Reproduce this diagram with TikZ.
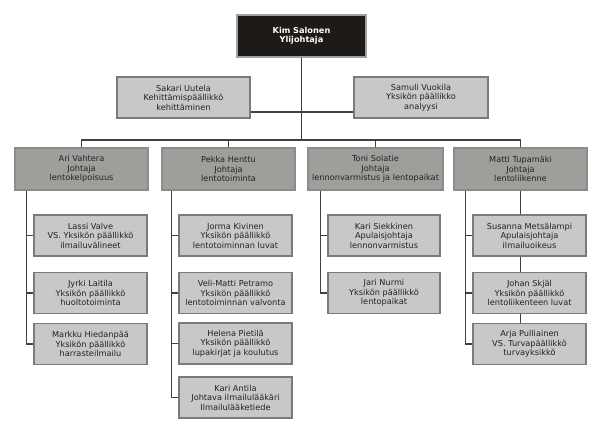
\documentclass[tikz,border=0pt]{standalone}
\usepackage{fontspec}
\setmainfont{DejaVu Sans}
\definecolor{topfill}{HTML}{1E1A18}
\definecolor{topborder}{HTML}{A0A0A0}
\definecolor{lightfill}{HTML}{C8C8C8}
\definecolor{lightborder}{HTML}{7A7A7A}
\definecolor{midfill}{HTML}{A09E9B}
\definecolor{midborder}{HTML}{8C8C8C}
\definecolor{linec}{HTML}{404040}
\definecolor{txt}{HTML}{222222}
\begin{document}
\begin{tikzpicture}[x=1pt,y=-1pt,
  base/.style={rectangle,inner sep=0pt,align=center,font=\fontsize{8.2}{9.5}\selectfont,text=txt,line width=1.6pt},
  topbox/.style={base,fill=topfill,draw=topborder,text=white,font=\fontsize{8.2}{9.5}\selectfont\bfseries,minimum width=129pt,minimum height=42pt},
  lightbox/.style={base,fill=lightfill,draw=lightborder,minimum width=113pt,minimum height=41pt},
  widebox/.style={base,fill=lightfill,draw=lightborder,minimum width=133pt,minimum height=41pt},
  midbox/.style={base,fill=midfill,draw=midborder,minimum width=133pt,minimum height=42pt},
  conn/.style={draw=linec,line width=1.1pt}]
\useasboundingbox (0,0) rectangle (600,432);
\fill[white] (0,0) rectangle (600,432);

\node[topbox] (kim) at (301.5,36) {Kim Salonen\\Ylijohtaja};
\node[widebox] (sakari) at (183.5,97.5) {Sakari Uutela\\Kehittämispäällikkö\\kehittäminen};
\node[widebox,minimum width=134pt] (samuli) at (421,97.5) {Samuli Vuokila\\Yksikön päällikko\\analyysi};

\node[midbox] (ari) at (81.5,169) {Ari Vahtera\\Johtaja\\lentokelpoisuus};
\node[midbox] (pekka) at (228.5,169) {Pekka Henttu\\Johtaja\\lentotoiminta};
\node[midbox,minimum width=135pt] (toni) at (375.5,169) {Toni Solatie\\Johtaja\\lennonvarmistus ja lentopaikat};
\node[midbox] (matti) at (520.5,169) {Matti Tupamäki\\Johtaja\\lentoliikenne};

\node[lightbox] (lassi) at (90.5,235.5) {Lassi Valve\\VS. Yksikön päällikkö\\ilmailuvälineet};
\node[lightbox] (jyrki) at (90.5,293) {Jyrki Laitila\\Yksikön päällikkö\\huoltotoiminta};
\node[lightbox] (markku) at (90.5,344) {Markku Hiedanpää\\Yksikön päällikkö\\harrasteilmailu};

\node[lightbox] (jorma) at (235.5,235.5) {Jorma Kivinen\\Yksikön päällikkö\\lentotoiminnan luvat};
\node[lightbox] (veli) at (235.5,293) {Veli-Matti Petramo\\Yksikön päällikkö\\lentotoiminnan valvonta};
\node[lightbox] (helena) at (235.5,343.5) {Helena Pietilä\\Yksikön päällikkö\\lupakirjat ja koulutus};
\node[lightbox] (antila) at (235.5,397.5) {Kari Antila\\Johtava ilmailulääkäri\\Ilmailulääketiede};

\node[lightbox,minimum width=112pt] (siekkinen) at (384,235.5) {Kari Siekkinen\\Apulaisjohtaja\\lennonvarmistus};
\node[lightbox,minimum width=112pt] (nurmi) at (384,293) {Jari Nurmi\\Yksikön päällikkö\\lentopaikat};

\node[lightbox] (susanna) at (529.5,235.5) {Susanna Metsälampi\\Apulaisjohtaja\\ilmailuoikeus};
\node[lightbox] (johan) at (529.5,293) {Johan Skjäl\\Yksikön päällikkö\\lentoliikenteen luvat};
\node[lightbox] (arja) at (529.5,344) {Arja Pulliainen\\VS. Turvapäällikkö\\turvayksikkö};

\coordinate (bus) at (301.5,140);
\coordinate (staff) at (301.5,112);

\path[conn] (kim.south) -- (bus);
\path[conn] (sakari.east |- staff) -- (samuli.west |- staff);
\path[conn] (ari.north) |- (bus) -| (matti.north);
\path[conn] (pekka.north) -- (pekka.north |- bus);
\path[conn] (toni.north) -- (toni.north |- bus);

\coordinate (ca) at ([xshift=12pt]ari.south west);
\path[conn] (ca) |- (markku.west);
\path[conn] (ca |- lassi.west) -- (lassi.west);
\path[conn] (ca |- jyrki.west) -- (jyrki.west);

\coordinate (cp) at ([xshift=10pt]pekka.south west);
\path[conn] (cp) |- (antila.west);
\path[conn] (cp |- jorma.west) -- (jorma.west);
\path[conn] (cp |- veli.west) -- (veli.west);
\path[conn] (cp |- helena.west) -- (helena.west);

\coordinate (ct) at ([xshift=13.5pt]toni.south west);
\path[conn] (ct) |- (nurmi.west);
\path[conn] (ct |- siekkinen.west) -- (siekkinen.west);

\coordinate (cm) at ([xshift=12pt]matti.south west);
\path[conn] (cm) |- (arja.west);
\path[conn] (cm |- susanna.west) -- (susanna.west);
\path[conn] (cm |- johan.west) -- (johan.west);
\path[conn] (matti.south) -- (matti.south |- susanna.north);
\path[conn] (matti.south |- susanna.south) -- (matti.south |- johan.north);
\path[conn] (matti.south |- johan.south) -- (matti.south |- arja.north);
\end{tikzpicture}
\end{document}
